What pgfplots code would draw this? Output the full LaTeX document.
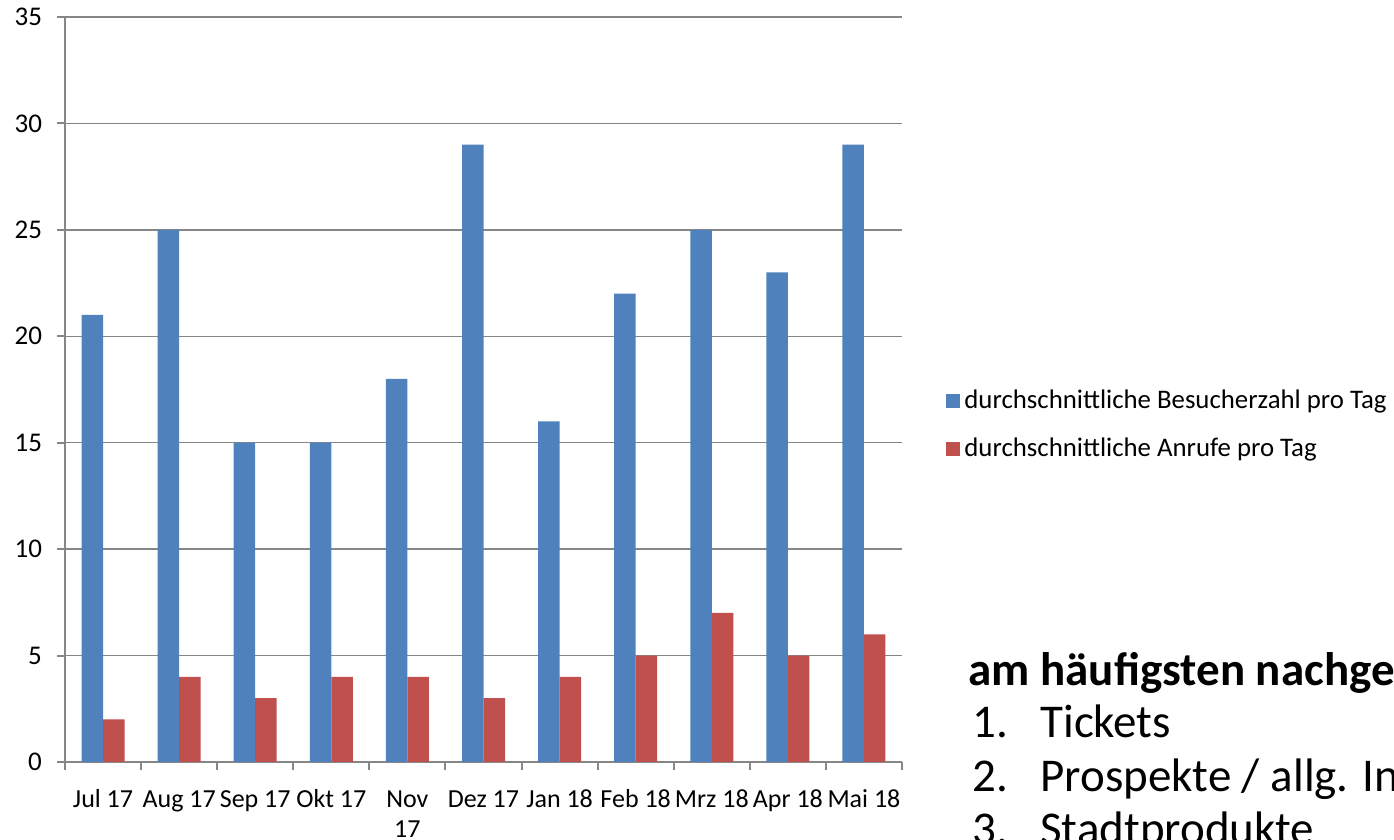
\documentclass[border=0pt]{standalone}
\usepackage{fontspec}
\setmainfont{Carlito}
\usepackage{pgfplots}
\pgfplotsset{compat=1.18}
\definecolor{cblue}{HTML}{4F81BD}
\definecolor{cred}{HTML}{C0504D}
\definecolor{cgrid}{HTML}{868686}
\begin{document}
\begin{tikzpicture}
\useasboundingbox (0pt,0pt) rectangle (697pt,420pt);
\clip (0pt,0pt) rectangle (697pt,420pt);
\begin{axis}[
  at={(32.5pt,39pt)}, anchor=south west,
  scale only axis, width=418.5pt, height=372.5pt,
  xmin=-0.5, xmax=10.5, ymin=0, ymax=35,
  axis x line*=bottom, axis y line*=left,
  axis line style={cgrid, line width=1pt, -},
  ytick={0,5,...,35},
  ymajorgrids, grid style={cgrid, line width=0.7pt},
  tick align=outside, major tick length=4pt, minor tick length=4pt,
  xtick={0,...,10},
  xticklabels={\strut Jul 17,\strut Aug 17,\strut Sep 17,\strut Okt 17,\strut Nov\\17,\strut Dez 17,\strut Jan 18,\strut Feb 18,\strut Mrz 18,\strut Apr 18,\strut Mai 18},
  major x tick style={draw=none},
  minor xtick={-0.5,0.5,...,10.5},
  minor x tick style={cgrid, line width=1pt},
  major y tick style={cgrid, line width=1pt},
  xticklabel style={align=center, anchor=north, yshift=-4.5pt, font=\fontsize{13}{15}\selectfont},
  yticklabel style={xshift=-4pt, font=\fontsize{13.5}{15.5}\selectfont},
  /pgf/number format/assume math mode=true,
  ybar, bar width=10.75pt,
  legend image code/.code={\fill[#1] (0pt,-3.5pt) rectangle (7pt,3.5pt);},
  legend style={at={(1.0526,0.4527)}, anchor=west, draw=none, fill=none,
    font=\fontsize{13.4}{15.5}\selectfont, row sep=9pt, inner sep=0pt},
  legend cell align=left,
]
\addplot[fill=cblue, draw=none, bar shift=-5.375pt] coordinates {
(0,21) (1,25) (2,15) (3,15) (4,18) (5,29) (6,16) (7,22) (8,25) (9,23) (10,29)};
\addplot[fill=cred, draw=none, bar shift=5.375pt] coordinates {
(0,2) (1,4) (2,3) (3,4) (4,4) (5,3) (6,4) (7,5) (8,7) (9,5) (10,6)};
\legend{durchschnittliche Besucherzahl pro Tag, durchschnittliche Anrufe pro Tag}
\end{axis}
\node[anchor=base west, inner sep=0pt, font=\fontsize{23.5}{27}\selectfont\bfseries] at (484pt,77pt) {am häufigsten nachgefragt:};
\node[anchor=base west, inner sep=0pt, font=\fontsize{23.5}{27}\selectfont] at (486pt,51pt) {1.};
\node[anchor=base west, inner sep=0pt, font=\fontsize{23.5}{27}\selectfont] at (520pt,51pt) {Tickets};
\node[anchor=base west, inner sep=0pt, font=\fontsize{23.5}{27}\selectfont] at (486pt,24pt) {2.};
\node[anchor=base west, inner sep=0pt, font=\fontsize{23.5}{27}\selectfont] at (520pt,24pt) {Prospekte / allg. Informationen};
\node[anchor=base west, inner sep=0pt, font=\fontsize{23.5}{27}\selectfont] at (486pt,-2.5pt) {3.};
\node[anchor=base west, inner sep=0pt, font=\fontsize{23.5}{27}\selectfont] at (520pt,-2.5pt) {Stadtprodukte};
\end{tikzpicture}
\end{document}
